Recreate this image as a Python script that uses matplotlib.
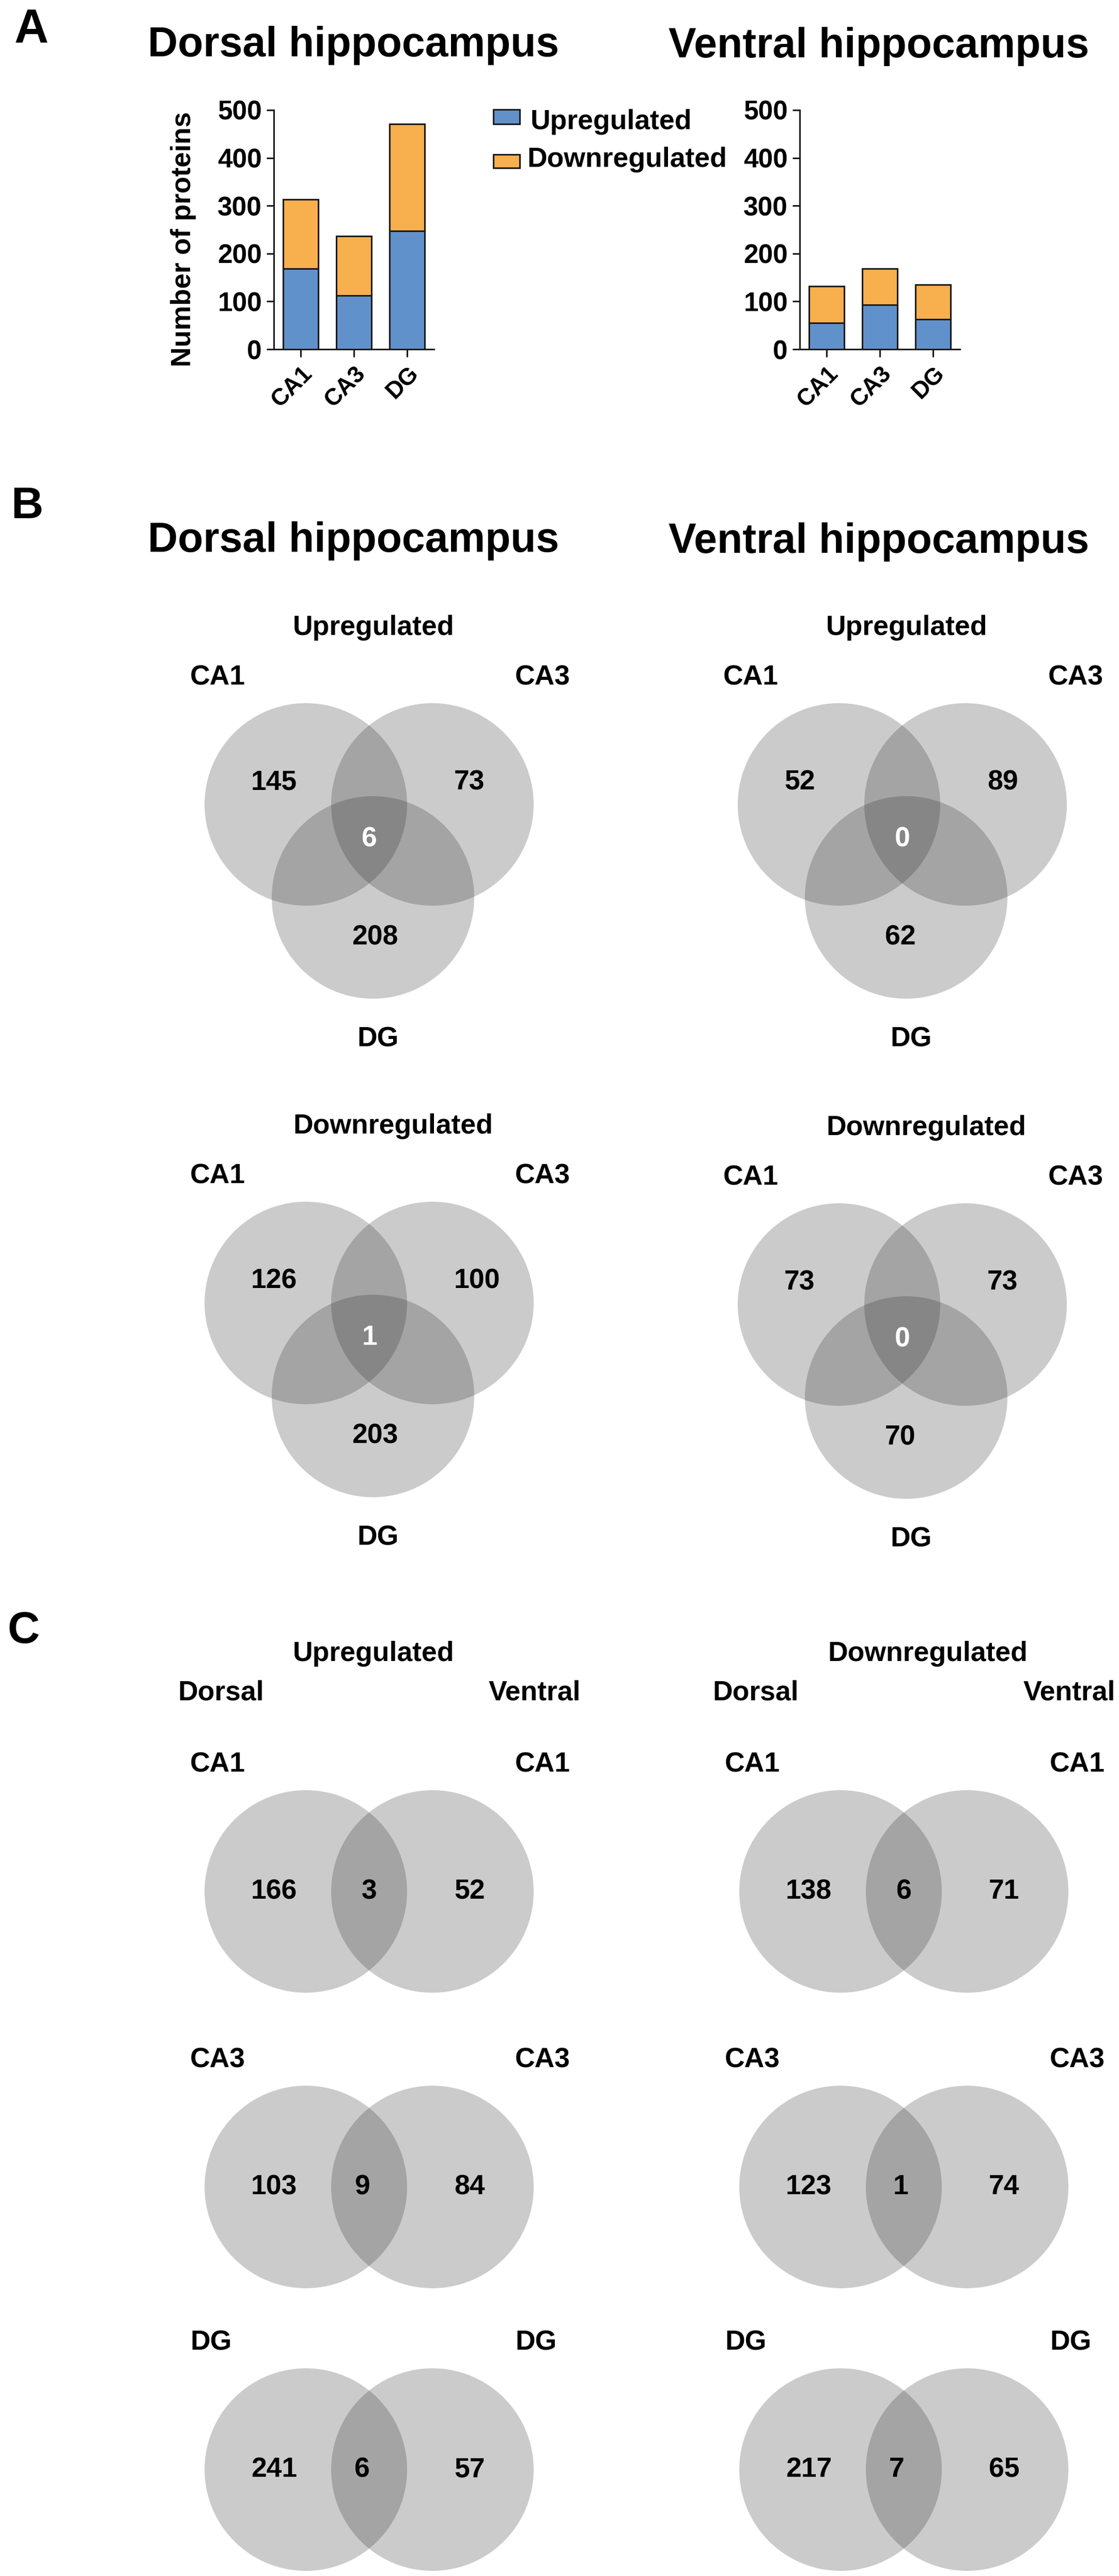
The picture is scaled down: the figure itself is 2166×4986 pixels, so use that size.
import matplotlib
matplotlib.use('Agg')
import matplotlib.pyplot as plt
from matplotlib.patches import Circle, Rectangle

# ---------------- data ----------------
regions = ['CA1', 'CA3', 'DG']
dorsal_up = [169, 112, 247]
dorsal_down = [144, 124, 224]
ventral_up = [55, 93, 63]
ventral_down = [77, 75, 72]

# three-set Venn counts: (CA1 only, CA3 only, DG only, all three)
venn_dorsal_up = [145, 73, 208, 6]
venn_dorsal_down = [126, 100, 203, 1]
venn_ventral_up = [52, 89, 62, 0]
venn_ventral_down = [73, 73, 70, 0]

# two-set Venn counts: (dorsal only, both, ventral only)
up_CA1 = [166, 3, 52]
up_CA3 = [103, 9, 84]
up_DG = [241, 6, 57]
down_CA1 = [138, 6, 71]
down_CA3 = [123, 1, 74]
down_DG = [217, 7, 65]

# ---------------- style ----------------
W, H = 2166, 4986
DPI = 100
BLUE = '#6191CB'
ORANGE = '#F8AF4E'
EDGE = '#1a1a1a'
GRAY = (0.149, 0.149, 0.149)
ALPHA = 0.235
FS = 38.5

plt.rcParams['font.family'] = ['Liberation Sans', 'DejaVu Sans']
plt.rcParams['font.weight'] = 'bold'

fig = plt.figure(figsize=(W / DPI, H / DPI), dpi=DPI)
fig.patch.set_facecolor('white')

ov = fig.add_axes([0, 0, 1, 1])
ov.set_xlim(0, W)
ov.set_ylim(H, 0)
ov.axis('off')
ov.patch.set_visible(False)


def T(x, yc, s, size=FS, ha='left', color='black'):
    """Place text so that the centre of its capitals sits at yc (pixels)."""
    ov.text(x, yc + 0.358 * size * DPI / 72.0, str(s), fontsize=size, ha=ha,
            va='baseline', fontweight='bold', color=color)


# ---------------- panel letters and titles ----------------
T(28, 50, 'A', size=66)
T(21, 972, 'B', size=62)
T(14, 3149, 'C', size=62)

T(684, 80, 'Dorsal hippocampus', size=58, ha='center')
T(1701, 82, 'Ventral hippocampus', size=58, ha='center')
T(684, 1039, 'Dorsal hippocampus', size=58, ha='center')
T(1701, 1041, 'Ventral hippocampus', size=58, ha='center')

# ---------------- panel A bar charts ----------------
def bar_panel(x0, x1, ytop, ybot, up, down):
    ax = fig.add_axes([x0 / W, 1 - ybot / H, (x1 - x0) / W, (ybot - ytop) / H])
    xs = list(range(len(regions)))
    ax.bar(xs, up, width=0.66, color=BLUE, edgecolor=EDGE, linewidth=2.2, zorder=3)
    ax.bar(xs, down, bottom=up, width=0.66, color=ORANGE, edgecolor=EDGE,
           linewidth=2.2, zorder=3)
    ax.set_ylim(0, 500)
    ax.set_xlim(-0.505, 2.505)
    ax.set_yticks([0, 100, 200, 300, 400, 500])
    ax.set_xticks(xs)
    ax.set_xticklabels(regions, rotation=45, ha='right', va='top',
                       rotation_mode='anchor', fontsize=33, fontweight='bold')
    for lab in ax.get_yticklabels():
        lab.set_fontsize(37)
        lab.set_fontweight('bold')
    for s in ['top', 'right']:
        ax.spines[s].set_visible(False)
    for s in ['left', 'bottom']:
        ax.spines[s].set_linewidth(2.2)
        ax.spines[s].set_color(EDGE)
    ax.tick_params(axis='y', length=10, width=2.2, pad=6.5, color=EDGE)
    ax.tick_params(axis='x', length=10.8, width=2.2, pad=7, color=EDGE)
    ax.patch.set_visible(False)
    return ax


bar_panel(530, 840, 213, 676, dorsal_up, dorsal_down)
bar_panel(1548, 1858, 213, 676, ventral_up, ventral_down)

ov.text(369, 463, 'Number of proteins', rotation=90, rotation_mode='anchor',
        ha='center', va='baseline', fontsize=FS, fontweight='bold')

# legend
ov.add_patch(Rectangle((955, 212), 51, 28, facecolor=BLUE, edgecolor=EDGE, linewidth=2.2))
ov.add_patch(Rectangle((955, 299), 51, 26, facecolor=ORANGE, edgecolor=EDGE, linewidth=2.2))
T(1027, 231, 'Upregulated')
T(1020, 304, 'Downregulated')

# ---------------- panel B three-set Venns ----------------
R = 196


def venn3(ox, oy, title, counts):
    for dx, dy in [(0, 0), (245, 0), (130, 180)]:
        ov.add_patch(Circle((ox + dx, oy + dy), R, facecolor=GRAY, alpha=ALPHA, linewidth=0))
    T(ox - 25, oy - 347, title)
    T(ox - 224, oy - 251, regions[0])
    T(ox + 405, oy - 251, regions[1])
    T(ox + 140, oy + 449, regions[2], ha='center')
    a, b, c, abc = counts
    T(ox - 106, oy - 48, a)
    T(ox + 287, oy - 48, b)
    T(ox + 89, oy + 252, c)
    T(ox + 123, oy + 62, abc, ha='center', color='white')


venn3(592, 1557, 'Upregulated', venn_dorsal_up)
venn3(592, 2522, 'Downregulated', venn_dorsal_down)
venn3(1624, 1557, 'Upregulated', venn_ventral_up)
venn3(1624, 2525, 'Downregulated', venn_ventral_down)

# ---------------- panel C two-set Venns ----------------
def venn2(ox, oy, label, counts, mid_dx):
    for dx in (0, 245):
        ov.add_patch(Circle((ox + dx, oy), R, facecolor=GRAY, alpha=ALPHA, linewidth=0))
    T(ox - 224, oy - 251, label)
    T(ox + 405, oy - 251, label)
    a, ab, b = counts
    T(ox - 106, oy - 5, a)
    T(ox + mid_dx, oy - 5, ab, ha='center')
    T(ox + 287, oy - 5, b)


for ox, title in [(592, 'Upregulated'), (1627, 'Downregulated')]:
    T(ox - 25, 3196, title)
    T(ox - 248, 3271, 'Dorsal')
    T(ox + 354, 3271, 'Ventral')

rows_y = [3661, 4233, 4780]
venn2(592, rows_y[0], regions[0], up_CA1, 123)
venn2(592, rows_y[1], regions[1], up_CA3, 109)
venn2(592, rows_y[2], regions[2], up_DG, 109)
venn2(1627, rows_y[0], regions[0], down_CA1, 123)
venn2(1627, rows_y[1], regions[1], down_CA3, 116)
venn2(1627, rows_y[2], regions[2], down_DG, 109)

fig.savefig('out.png', dpi=DPI, facecolor='white')
